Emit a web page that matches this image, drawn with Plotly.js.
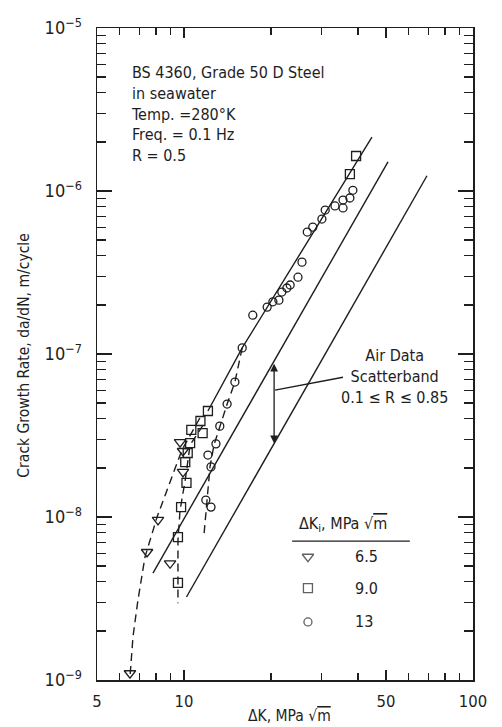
<!DOCTYPE html>
<html>
<head>
<meta charset="utf-8">
<script src="https://cdn.plot.ly/plotly-3.0.1.min.js"></script>
<style>
html,body{margin:0;padding:0;background:#fff;}
#chart{width:502px;height:727px;}
</style>
</head>
<body>
<div id="chart"></div>
<script>
// ---- Data (ΔK in MPa√m, da/dN in m/cycle) ----
const triX = [9.69, 9.92, 9.92, 8.13, 7.45, 8.95, 6.50];
const triY = [2.88e-8, 2.54e-8, 1.89e-8, 9.6e-9, 6.1e-9, 5.2e-9, 1.1e-9];

const sqX = [39.4, 37.5, 12.1, 11.4, 10.6, 11.6, 10.5, 10.3, 10.1, 10.2, 9.77, 9.53, 9.53];
const sqY = [1.64e-6, 1.27e-6, 4.47e-8, 3.88e-8, 3.42e-8, 3.27e-8, 2.84e-8, 2.47e-8, 2.17e-8, 1.62e-8, 1.15e-8, 7.53e-9, 3.94e-9];

const circX = [38.4, 37.5, 35.5, 35.5, 33.3, 30.8, 30.0, 27.9, 26.7, 25.6, 24.8, 23.3, 22.7, 21.8, 21.3, 20.3, 19.4, 17.3, 15.9, 15.0, 14.1, 13.3, 12.9, 12.1, 12.4, 11.9, 12.4];
const circY = [1.01e-6, 9.06e-7, 8.8e-7, 7.87e-7, 8.1e-7, 7.64e-7, 6.73e-7, 6.0e-7, 5.6e-7, 3.66e-7, 2.96e-7, 2.65e-7, 2.54e-7, 2.40e-7, 2.14e-7, 2.09e-7, 1.94e-7, 1.73e-7, 1.09e-7, 6.73e-8, 4.93e-8, 3.61e-8, 2.81e-8, 2.40e-8, 2.03e-8, 1.27e-8, 1.15e-8];

// seawater trend curve (solid) and its three dashed low-ΔK branches
const wetSolidX = [44.7, 15.9, 12.1];
const wetSolidY = [2.14e-6, 1.09e-7, 4.47e-8];
const triDashX = [11.35, 9.84, 8.95, 8.07, 7.33, 6.93, 6.66, 6.50];
const triDashY = [4.05e-8, 2.58e-8, 1.64e-8, 1.0e-8, 5.69e-9, 3.1e-9, 1.84e-9, 1.03e-9];
const sqDashX = [11.64, 10.5, 10.1, 9.69, 9.53, 9.53];
const sqDashY = [3.66e-8, 2.77e-8, 1.69e-8, 1.10e-8, 7.23e-9, 2.96e-9];
const circDashX = [15.9, 15.0, 14.1, 13.3, 12.7, 12.3, 12.0, 11.7];
const circDashY = [1.09e-7, 6.73e-8, 4.93e-8, 3.61e-8, 2.77e-8, 2.03e-8, 1.27e-8, 7.43e-9];

// air data scatterband bounds
const bandUpperX = [7.81, 50.8];
const bandUpperY = [4.53e-9, 1.51e-6];
const bandLowerX = [10.2, 69.3];
const bandLowerY = [3.23e-9, 1.24e-6];
const bandArrowX = 20.5;
const bandArrowY = [8.9e-8, 2.83e-8];
const leaderX = [20.65, 35.5];
const leaderY = [6.0e-8, 7.2e-8];

// axis labels
const xTickVals = [5, 10, 50, 100];
const xTickText = ['5', '10', '50', '100'];
const yTickVals = [1e-9, 1e-8, 1e-7, 1e-6, 1e-5];
const yTickText = ['10<sup>−9</sup>', '10<sup>−8</sup>', '10<sup>−7</sup>', '10<sup>−6</sup>', '10<sup>−5</sup>'];

const legendLabels = ['6.5', '9.0', '13'];
const legendSymbols = ['triangle-down-open', 'square-open', 'circle-open'];

// ---- build ----
const FONT = 'DejaVu Sans Condensed, Liberation Sans Narrow, sans-serif';
const INK = '#1e1e1e';

const xMinor = [];
[1, 10].forEach(m => { for (let d = 2; d <= 9; d++) { const v = d * m; if (v > 5 && v < 100 && v !== 10) xMinor.push(v); } });
const yMinor = [];
for (let e = -9; e <= -6; e++) for (let d = 2; d <= 9; d++) yMinor.push(d * Math.pow(10, e));

function line(x, y, dash) {
  return {x: x, y: y, type: 'scatter', mode: 'lines', showlegend: false, hoverinfo: 'skip',
    line: {color: INK, width: 1.4, dash: dash || 'solid'}};
}
function pts(x, y, sym, size) {
  return {x: x, y: y, type: 'scatter', mode: 'markers', showlegend: false,
    marker: {symbol: sym, size: size, color: INK, line: {color: INK, width: 1.3}}};
}

const legendRowY = [0.189, 0.141, 0.089];
const traces = [
  line(bandUpperX, bandUpperY),
  line(bandLowerX, bandLowerY),
  line(wetSolidX, wetSolidY),
  line(triDashX, triDashY, '8px,5px'),
  line(sqDashX, sqDashY, '8px,5px'),
  line(circDashX, circDashY, '8px,5px'),
  line(leaderX, leaderY),
  pts(triX, triY, 'triangle-down-open', 10),
  pts(sqX, sqY, 'square-open', 9),
  pts(circX, circY, 'circle-open', 8),
  // legend key symbols on an overlay axis pair
  {x: [0.561, 0.561, 0.561], y: legendRowY, xaxis: 'x2', yaxis: 'y2', type: 'scatter', mode: 'markers',
   showlegend: false, hoverinfo: 'skip',
   marker: {symbol: legendSymbols, size: [10, 9, 8], color: INK, line: {color: INK, width: 1.3}}}
];

const annotations = [
  {xref: 'paper', yref: 'paper', x: 0.086, y: 0.950, xanchor: 'left', yanchor: 'top', align: 'left', showarrow: false,
   text: 'BS 4360, Grade 50 D Steel<br>in seawater<br>Temp. =280°K<br>Freq. = 0.1 Hz<br>R = 0.5',
   font: {family: FONT, size: 16, color: INK}},
  {xref: 'paper', yref: 'paper', x: 0.790, y: 0.466, xanchor: 'center', yanchor: 'middle', align: 'center', showarrow: false,
   text: 'Air Data<br>Scatterband<br>0.1 ≤ R ≤ 0.85', font: {family: FONT, size: 16, color: INK}},
  {xref: 'paper', yref: 'paper', x: 0.532, y: 0.238, xanchor: 'left', yanchor: 'middle', showarrow: false,
   text: 'ΔK<sub>i</sub>, MPa √<span style="text-decoration:overline">m</span>', font: {family: FONT, size: 16, color: INK}},
  {xref: 'paper', yref: 'paper', x: -0.195, y: 0.497, xanchor: 'center', yanchor: 'middle', textangle: -90, showarrow: false,
   text: 'Crack Growth Rate, da/dN, m/cycle', font: {family: FONT, size: 15.5, color: INK}},
  {xref: 'paper', yref: 'paper', x: 0.513, y: -0.055, xanchor: 'center', yanchor: 'middle', showarrow: false,
   text: 'ΔK, MPa √<span style="text-decoration:overline">m</span>', font: {family: FONT, size: 15.5, color: INK}},
  {xref: 'x', yref: 'y', axref: 'x', ayref: 'y',
   x: Math.log10(bandArrowX), y: Math.log10(bandArrowY[1]),
   ax: Math.log10(bandArrowX), ay: Math.log10(bandArrowY[0]),
   text: '', showarrow: true, arrowhead: 2, arrowside: 'end+start', arrowsize: 1.2, arrowwidth: 1.3, arrowcolor: INK}
];
legendLabels.forEach((t, i) => annotations.push({xref: 'paper', yref: 'paper', x: 0.681, y: legendRowY[i],
  xanchor: 'left', yanchor: 'middle', showarrow: false, text: t, font: {family: FONT, size: 16, color: INK}}));

const axisCommon = {showgrid: false, zeroline: false, showline: true, linecolor: INK, linewidth: 1.5,
  ticks: 'inside', tickcolor: INK, tickwidth: 1.3, mirror: 'allticks'};

const layout = {
  width: 502, height: 727,
  margin: {l: 97, r: 29, t: 28, b: 47, pad: 0},
  paper_bgcolor: '#fff', plot_bgcolor: '#fff',
  showlegend: false,
  xaxis: Object.assign({}, axisCommon, {type: 'log', range: [Math.log10(5), 2],
    tickmode: 'array', tickvals: xTickVals, ticktext: xTickText, ticklen: 10, ticklabelstandoff: 6,
    tickfont: {family: FONT, size: 16.5, color: INK},
    minor: {tickmode: 'array', tickvals: xMinor, ticks: 'inside', ticklen: 7, tickcolor: INK, tickwidth: 1.2, showgrid: false}}),
  yaxis: Object.assign({}, axisCommon, {type: 'log', range: [-9, -5],
    tickmode: 'array', tickvals: yTickVals, ticktext: yTickText, ticklen: 15, ticklabelstandoff: 10,
    tickfont: {family: FONT, size: 18, color: INK},
    minor: {tickmode: 'array', tickvals: yMinor, ticks: 'inside', ticklen: 9, tickcolor: INK, tickwidth: 1.2, showgrid: false}}),
  xaxis2: {overlaying: 'x', range: [0, 1], visible: false, fixedrange: true},
  yaxis2: {overlaying: 'y', range: [0, 1], visible: false, fixedrange: true},
  shapes: [
    {type: 'line', xref: 'paper', yref: 'paper', x0: 0.519, x1: 0.832, y0: 0.213, y1: 0.213, line: {color: INK, width: 1.3}}
  ],
  annotations: annotations
};

Plotly.newPlot('chart', traces, layout, {staticPlot: true, displayModeBar: false});
</script>
</body>
</html>
